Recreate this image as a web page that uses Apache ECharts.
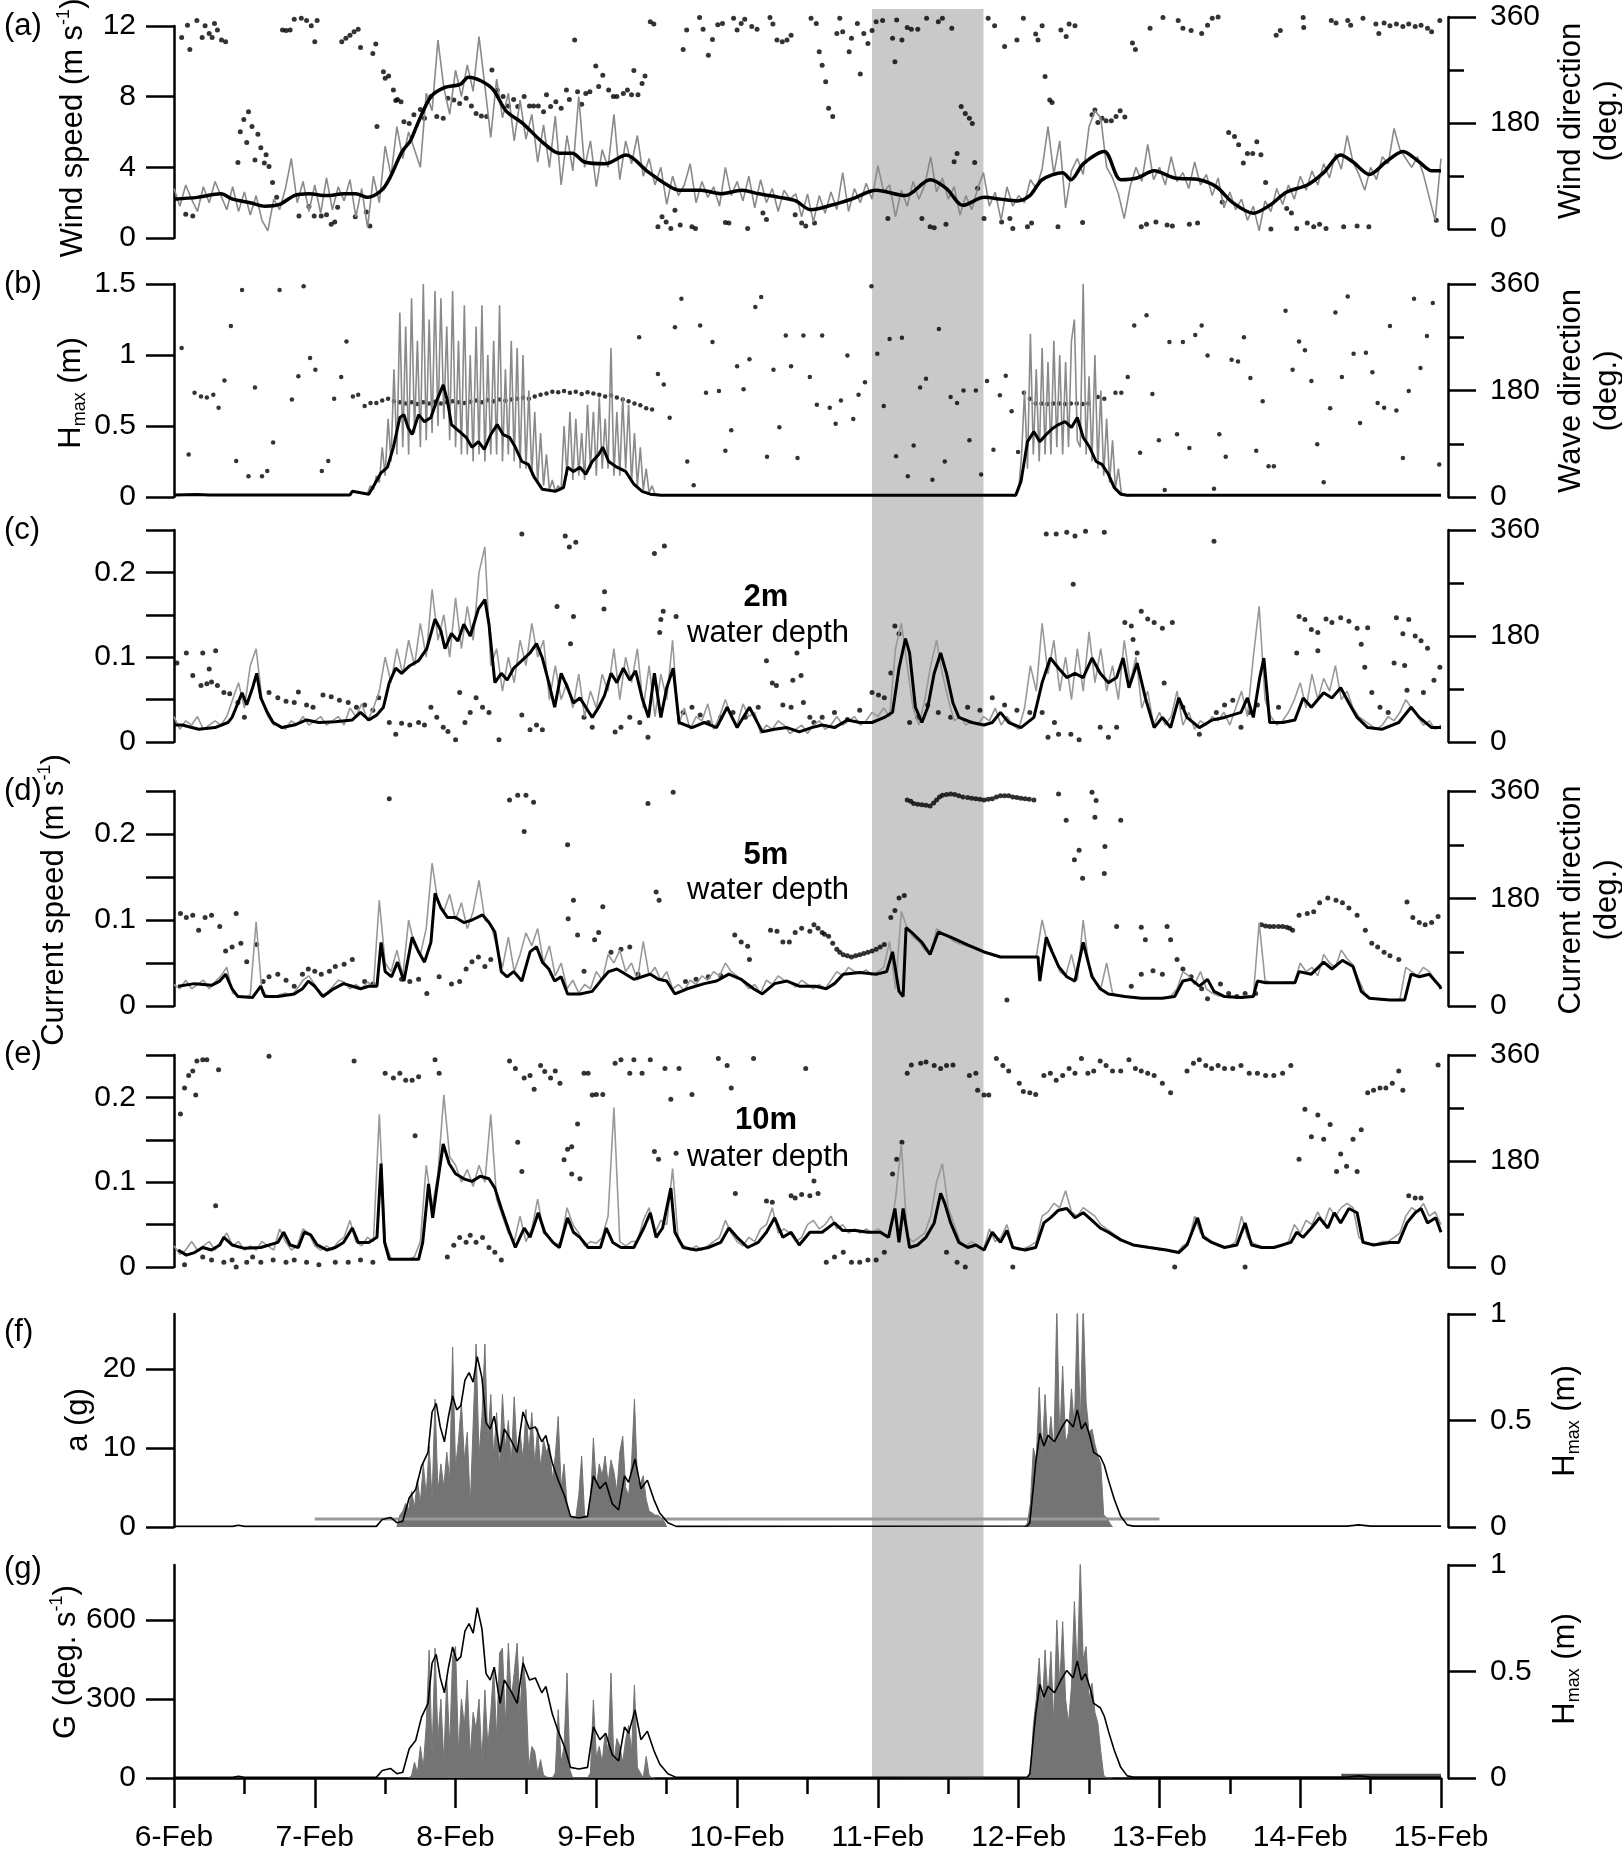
<!DOCTYPE html>
<html><head><meta charset="utf-8">
<script src="https://cdn.jsdelivr.net/npm/echarts@6/dist/echarts.min.js"></script>
<style>html,body{margin:0;padding:0;background:#fff}#c{width:1622px;height:1856px}</style>
</head><body><div id="c"></div>
<script>
// ---------------- DATA (time in hours from 6-Feb 00:00) ----------------
const dayStart = 6;            // first tick = 6-Feb
const xMaxHours = 216;         // 15-Feb
const bandHours = [119, 138];  // shaded period

// (a) wind speed, hourly raw (m/s)
const windSpeedRaw = [
2.8,1.8,3.0,2.2,1.5,2.9,2.0,3.2,2.4,1.6,
2.9,1.5,2.6,1.3,2.4,1.0,0.4,2.2,1.6,2.8,
4.5,2.0,3.2,1.5,3.0,1.4,3.4,1.6,2.9,2.1,
3.3,1.2,2.8,0.6,3.5,2.0,5.2,3.5,6.3,4.5,
6.0,5.0,4.0,8.2,7.2,11.2,8.5,7.0,9.5,8.0,
9.8,8.3,11.4,8.6,5.7,9.0,6.8,8.2,5.5,7.8,
5.6,7.0,4.3,6.4,4.0,6.9,3.0,5.8,3.8,8.0,
4.0,5.5,2.9,5.0,4.0,7.0,3.3,5.5,4.2,5.8,
3.5,4.5,3.0,4.0,1.9,3.5,2.4,3.0,4.2,2.0,
3.2,2.3,2.9,1.8,4.0,2.4,3.2,2.1,3.5,1.7,
3.3,2.0,2.8,1.5,2.7,2.2,2.5,1.2,2.5,0.9,
2.4,1.4,2.6,1.6,3.7,1.5,2.8,2.0,3.1,2.2,
4.1,2.6,3.0,1.2,2.7,1.8,3.2,2.2,3.0,4.6,
2.6,3.4,2.2,2.9,1.3,2.4,1.6,2.8,3.7,1.8,
2.6,1.0,2.9,1.8,2.4,2.0,3.3,2.8,3.9,6.3,
3.6,5.5,1.7,3.8,4.5,3.6,6.3,7.2,6.8,4.0,
3.4,2.5,1.1,2.9,4.0,3.2,5.3,3.3,4.0,3.0,
4.6,3.2,3.7,2.8,4.3,3.0,3.6,2.4,3.4,1.7,
2.6,1.6,2.2,1.0,1.8,0.4,2.1,1.5,2.8,1.9,
3.0,2.2,3.5,2.7,3.8,3.0,4.2,3.4,4.8,3.9,
5.8,4.3,3.6,2.7,4.0,3.3,4.6,4.2,6.2,5.0,
4.5,4.0,4.6,3.6,2.3,1.0,4.5];
// (a) wind speed smoothed [hour, m/s]
const windSpeedSmooth = [[0,2.2],[4,2.3],[8,2.5],[10,2.2],[13,2.0],[15.5,1.8],[18,1.9],[20.5,2.4],[23,2.5],[26,2.4],[29,2.5],[31,2.5],[33,2.3],[35.4,2.7],[36.8,3.4],[38.9,4.9],[40.3,5.5],[41.7,6.6],[43.8,8.0],[46,8.5],[48.8,8.7],[50.2,9.1],[52.3,8.9],[54.4,8.4],[56.6,7.2],[59.4,6.5],[62.9,5.4],[65.7,4.8],[67.9,4.8],[70,4.3],[73.5,4.2],[77.1,4.7],[80.6,3.8],[84.1,3.0],[86.2,2.7],[89.8,2.7],[93.3,2.5],[96.8,2.7],[99.7,2.5],[103.2,2.3],[106,2.1],[108.5,1.6],[112,1.85],[115.5,2.2],[119.7,2.7],[124.7,2.4],[128.9,3.3],[131.7,2.8],[134.5,1.85],[138.1,2.3],[140.9,2.2],[143.7,2.1],[145.9,2.4],[148,3.3],[151.5,3.7],[152.9,3.3],[155,4.2],[158.6,4.9],[161.4,3.3],[164.2,3.4],[167.1,3.8],[170.6,3.4],[174.8,3.3],[177.7,2.9],[180.5,2.0],[184,1.4],[186.8,1.85],[189.7,2.6],[193.2,3.0],[196,3.7],[198.9,4.7],[201,4.3],[203.8,3.6],[206.6,4.3],[209.5,4.9],[212.3,4.3],[214.4,3.8],[216,3.8]];
// (a) wind direction [hour, deg]
const windDir = [[1.3,325],[2,25],[2.3,346],[2.7,305],[3.2,22],[3.9,354],[4.8,325],[5.3,345],[6,332],[6.5,325],[6.9,349],[7.4,338],[8.1,321],[8.8,318],[10.9,113],[11.3,165],[11.9,186],[12.4,147],[12.7,199],[13.3,174],[13.8,117],[14.3,161],[14.8,138],[15.4,112],[15.7,126],[16.2,106],[16.8,79],[17.5,54],[18.5,338],[19.1,337],[19.8,338],[20.5,356],[21.3,22],[21.7,358],[22.6,354],[23,38],[23.4,345],[23.9,22],[24,318],[24.4,354],[25.1,22],[26,24],[26.8,8],[27.4,12],[27.9,37],[28.6,318],[29.3,324],[30,329],[30.7,335],[30.9,21],[31.4,339],[31.8,308],[32.8,29],[33.4,5],[33.9,298],[34.4,314],[34.6,174],[35.7,267],[36,256],[36.6,260],[37.4,236],[37.8,218],[38.1,220],[38.7,216],[39.2,182],[40.1,179],[40.9,194],[42,203],[42.7,188],[43.8,225],[44.8,191],[45.9,188],[46.7,222],[47.7,219],[48.7,213],[49.8,222],[50.7,209],[51.5,196],[52.4,192],[53.3,191],[54.2,270],[55.1,236],[56.1,225],[57,209],[57.9,220],[58.6,208],[59.7,225],[60.6,209],[61.3,209],[62.1,209],[63,199],[63.5,228],[64.2,208],[65.1,216],[66,205],[66.9,236],[67.4,220],[68.3,321],[68.8,233],[69.5,212],[70.2,230],[70.9,233],[71.9,277],[72.4,242],[73.1,261],[74.1,236],[74.9,225],[75.5,225],[76.6,230],[77.3,236],[78,228],[78.4,269],[79.1,228],[79.8,247],[80.3,260],[81.2,352],[81.8,348],[82.5,4],[83.2,21],[83.9,12],[84.7,1],[85.4,32],[86.3,7],[86.8,305],[87.4,338],[88.3,4],[88.9,1],[89.6,359],[90.2,339],[91.1,295],[91.8,322],[92.7,347],[93.5,349],[94,11],[94.6,10],[95.4,358],[96,338],[96.7,349],[97.3,356],[97.8,1],[98.5,344],[99.4,339],[100.4,27],[101,16],[101.6,359],[102.1,348],[102.8,321],[103.7,318],[104.5,321],[105.2,329],[105.9,24],[107,10],[107.7,5],[108.6,358],[109.2,10],[109.5,349],[110,301],[110.5,278],[111.1,250],[111.6,205],[112.3,191],[113,332],[113.5,358],[114,335],[115.1,301],[115.5,324],[116.5,349],[117,263],[117.6,332],[118.3,315],[119,337],[119.7,352],[120.8,354],[121.7,18],[122.5,324],[122.9,284],[123.2,355],[124.1,321],[125,342],[125.7,339],[126.8,339],[127.5,18],[128.3,358],[128.9,4],[129.6,2],[130.3,352],[131,358],[131.6,8],[132.6,341],[133,114],[133.5,128],[134.2,208],[134.9,196],[135.6,188],[136.1,179],[136.5,113],[137,69],[138.1,18],[138.8,358],[139.9,345],[141.1,12],[141.6,310],[142.5,18],[143,1],[143.7,321],[144.8,358],[145.5,4],[146.2,10],[146.9,331],[147.3,321],[148,345],[148.5,259],[149.3,219],[149.7,215],[150.7,4],[151.2,338],[152.1,327],[152.6,348],[153.6,345],[154.9,11],[156.5,194],[157,202],[157.5,181],[158.2,188],[158.9,184],[159.8,184],[160.6,191],[161.3,201],[162.1,190],[163.4,316],[163.9,305],[164.9,4],[165.8,8],[166.4,341],[167.4,12],[168.6,359],[169.3,7],[170.2,5],[171.2,354],[172,341],[173.1,8],[173.4,337],[174.5,10],[175.2,332],[176.2,346],[177,358],[178,360],[178.7,46],[179.8,164],[180.8,157],[181.5,143],[182.3,112],[183,128],[183.9,128],[184.6,148],[185.3,126],[186.1,79],[187,0],[187.9,329],[188.6,337],[189.7,35],[190.5,27],[191.4,1],[192.5,359],[192.6,342],[193.2,10],[194.3,4],[195.3,8],[196.4,1],[197.3,354],[198.1,350],[199.4,4],[200.1,354],[200.6,346],[201.7,5],[202.7,358],[203.7,4],[204.9,348],[205.4,332],[206.3,350],[207.3,345],[208.4,348],[209.5,344],[210.5,348],[211.6,344],[212.6,346],[213.7,341],[214.4,335],[215.2,15],[215.8,354]];

// (b) Hmax raw, half-hourly in two active windows (m)
const hmaxRawStart1 = 33;
const hmaxRaw1 = [
.03,.08,.05,.15,.10,.35,.15,.55,.25,.9,
.3,1.3,.35,1.2,.3,1.4,.45,1.1,.35,1.5,
.4,1.25,.45,1.45,.5,1.4,.55,1.2,.4,1.45,
.35,1.1,.3,1.35,.3,1.0,.25,1.2,.3,1.35,
.25,1.0,.3,1.1,.3,1.35,.25,.9,.3,1.1,
.25,1.05,.2,1.0,.2,.75,.15,.6,.1,.45,
.08,.3,.05,.12,.04,.08,.05,.5,.15,.6,
.12,.55,.15,.45,.12,.65,.2,.6,.15,.7,
.2,.55,.2,1.05,.15,.6,.15,.7,.2,.65,
.1,.45,.08,.35,.05,.2,.03,.08,.02,.02,
.01];
const hmaxRawStart2 = 143;
const hmaxRaw2 = [
.01,.01,.05,.3,.75,.2,1.15,.3,.9,.25,
1.05,.3,.95,.3,1.1,.35,1.0,.3,.95,.35,
1.1,1.25,.4,.35,1.5,.3,.85,.25,1.0,.2,
.75,.15,.55,.1,.4,.06,.2,.03,.02,.01,
.01];
// (b) Hmax smoothed [hour, m]
const hmaxSmoothB = [[0,0.014],[4,0.018],[6,0.014],[30,0.014],[30.4,0.04],[31.8,0.03],[33.2,0.02],[34.2,0.09],[35.3,0.17],[36.4,0.21],[37.4,0.35],[38.5,0.56],[39.2,0.58],[39.9,0.49],[40.6,0.44],[41.7,0.58],[42.7,0.53],[43.8,0.56],[44.8,0.68],[45.9,0.79],[46.6,0.68],[47.3,0.51],[48.7,0.46],[49.8,0.42],[50.8,0.35],[51.9,0.39],[52.9,0.335],[54,0.44],[55.1,0.51],[56.1,0.44],[57.2,0.42],[58.2,0.35],[59.3,0.25],[60.4,0.23],[61.4,0.14],[62.8,0.054],[65,0.04],[66.4,0.066],[67.1,0.21],[68.1,0.18],[69.2,0.21],[70.2,0.16],[71.3,0.25],[72.4,0.3],[73.1,0.35],[74.1,0.25],[75.5,0.21],[77,0.18],[78.4,0.09],[79.8,0.04],[81.2,0.02],[83,0.012],[143.5,0.012],[144.4,0.11],[145.5,0.39],[146.6,0.46],[147.6,0.39],[148.7,0.44],[149.7,0.48],[150.8,0.51],[151.9,0.53],[153,0.49],[154,0.56],[155,0.42],[156.1,0.35],[157.2,0.25],[158.2,0.23],[159.3,0.16],[160.3,0.066],[161.4,0.02],[162.5,0.012],[216,0.012]];
// (b) wave direction [hour, deg]
const waveDir = [[1.3,252],[2.5,72],[3.5,176],[4.6,170],[5.6,168],[6.7,173],[7.6,151],[8.6,197],[9.7,289],[10.6,61],[11.6,350],[12.7,35],[13.8,185],[15,35],[15.9,44],[16.9,92],[18,350],[20.1,165],[21.2,204],[22.1,356],[23.2,235],[24.1,215],[25.2,44],[26.3,61],[27.3,166],[28.5,203],[29.4,263],[30.5,170],[31.4,173],
[32.5,154],[33.5,159],[34.5,159],[35.5,163],[36.5,166],[37.5,162],[38.5,160],[39.5,158],[40.5,160],[41.5,157],[42.5,160],[43.5,158],[44.5,161],[45.5,158],[46.5,160],[47.5,162],[48.5,160],[49.5,159],[50.5,161],[51.5,163],[52.5,160],[53.5,164],[54.5,162],[55.5,165],[56.5,163],[57.5,165],[58.5,166],[59.5,168],[60.5,166],[61.5,170],[62.5,173],[63.5,175],[64.5,178],[65.5,177],[66.5,179],[67.5,176],[68.5,178],[69.5,174],[70.5,177],[71.5,175],[72.5,173],[73.5,170],[74.5,172],[75.5,168],[76.5,165],[77.5,162],[78.5,158],[79.5,155],[80.5,150],[81.5,148],
[79.3,270],[82.5,208],[83.5,190],[84.5,134],[85.4,287],[86.5,335],[87.5,60],[88.6,20],[89.7,290],[90.7,176],[91.8,262],[92.9,179],[94,78],[95,113],[96,221],[97.1,182],[98.1,233],[99.1,321],[100.1,338],[101.1,68],[102.2,215],[103.2,118],[104.3,273],[105.2,221],[106.3,66],[107.3,273],[108.4,203],[109.6,156],[110.5,273],[111.8,151],[112.8,124],[113.7,163],[114.8,239],[115.8,132],[116.7,173],[117.8,194],[118.9,356],[119.9,242],[121,154],[122,267],[123.1,69],[124.1,269],[125.1,35],[126.1,87],[127.2,185],[128.2,200],[129.3,29],[130.4,284],[131.4,60],[132.4,169],[133.5,159],[134.6,180],[135.6,96],[136.7,180],[137.6,38],[138.6,196],[139.7,80],[140.8,172],[141.8,205],[142.8,145],[143.9,76],[144.9,176],[145.9,166],
[146.9,158],[147.9,158],[148.9,157],[149.9,158],[150.9,158],[151.9,157],[152.9,158],[153.9,158],[154.9,157],[155.9,158],
[157.5,169],[158.6,166],[160.5,176],[161.5,176],[162.6,203],[163.7,290],[164.7,75],[165.8,307],[166.8,174],[167.9,96],[168.9,12],[169.7,262],[171,106],[172,262],[173.1,83],[174.1,274],[175.2,290],[176.2,239],[177.3,14],[178.2,106],[179.3,68],[180.3,232],[181.4,229],[182.4,270],[183.5,201],[184.5,78],[185.6,162],[186.6,52],[187.5,52],[189.5,315],[190.7,215],[191.8,263],[192.8,248],[193.9,196],[194.9,89],[196,25],[197.1,150],[198,312],[199.1,203],[200.1,339],[201.1,242],[202.2,125],[203.2,244],[204.3,211],[205.2,159],[206.3,151],[207.3,289],[208.4,146],[209.5,66],[210.5,179],[211.4,335],[212.5,218],[213.6,272],[214.6,328],[215.7,55]];

// (c) 2 m current speed raw hourly (m/s)
const cur2Raw = [
.03,.015,.025,.02,.03,.015,.02,.025,.02,.03,
.05,.07,.04,.09,.11,.05,.03,.02,.02,.015,
.025,.02,.03,.02,.025,.03,.02,.025,.03,.02,
.04,.03,.045,.025,.04,.06,.1,.07,.11,.08,
.12,.09,.14,.1,.18,.12,.15,.1,.17,.11,
.16,.12,.2,.23,.09,.11,.06,.1,.07,.12,
.09,.14,.1,.12,.05,.09,.05,.07,.04,.08,
.03,.06,.04,.08,.06,.11,.05,.1,.07,.11,
.04,.09,.03,.08,.05,.12,.02,.04,.015,.03,
.025,.045,.015,.03,.05,.03,.02,.045,.03,.035,
.01,.02,.015,.025,.02,.01,.015,.02,.01,.02,
.025,.015,.02,.03,.02,.025,.03,.02,.025,.035,
.03,.04,.03,.11,.14,.09,.04,.02,.05,.09,
.12,.08,.05,.025,.03,.02,.025,.02,.03,.025,
.04,.02,.03,.02,.015,.04,.09,.06,.14,.08,
.12,.06,.1,.05,.11,.06,.13,.07,.11,.06,
.09,.05,.12,.07,.1,.04,.06,.02,.035,.02,
.03,.06,.02,.035,.015,.025,.02,.03,.025,.035,
.02,.04,.06,.03,.1,.16,.05,.03,.02,.025,
.035,.05,.07,.04,.08,.05,.075,.06,.09,.05,
.06,.04,.03,.025,.02,.015,.02,.03,.025,.035,
.05,.04,.03,.02,.025,.015,.02];
const cur2Smooth = [[0,0.02],[1.4,0.02],[4.2,0.015],[7,0.017],[9.2,0.023],[9.9,0.029],[10.9,0.046],[11.6,0.058],[12.4,0.044],[13.4,0.064],[14.1,0.081],[14.8,0.052],[15.9,0.035],[16.9,0.023],[18.4,0.017],[20.5,0.02],[22.6,0.026],[24.7,0.023],[27.5,0.024],[30.4,0.026],[31.8,0.035],[33.2,0.026],[34.6,0.032],[35.7,0.041],[36.7,0.07],[37.8,0.087],[38.8,0.081],[40.2,0.09],[41.7,0.096],[43.1,0.11],[44.5,0.145],[45.5,0.131],[46.2,0.11],[47.3,0.128],[48.4,0.119],[49.4,0.139],[50.5,0.125],[51.9,0.157],[53,0.168],[53.7,0.139],[54.7,0.07],[55.8,0.081],[56.8,0.073],[57.9,0.087],[59.3,0.096],[60.7,0.105],[61.8,0.116],[62.8,0.099],[63.9,0.07],[64.9,0.041],[66,0.081],[67.1,0.064],[68.1,0.046],[69.2,0.052],[70.2,0.041],[71.3,0.029],[72.4,0.041],[73.4,0.055],[74.5,0.081],[75.5,0.07],[76.6,0.087],[77.7,0.073],[78.7,0.084],[79.8,0.052],[80.9,0.029],[81.9,0.081],[83,0.029],[84,0.064],[85.1,0.087],[86.1,0.023],[88.3,0.017],[90.4,0.023],[92.5,0.017],[94.3,0.041],[96,0.017],[98.1,0.041],[100.3,0.012],[102.4,0.015],[104.5,0.017],[106.6,0.012],[108.7,0.017],[110.5,0.02],[112.6,0.017],[114.8,0.026],[116.9,0.023],[119,0.023],[121.1,0.029],[122.5,0.035],[123.6,0.087],[124.7,0.122],[125.4,0.105],[126.4,0.041],[127.5,0.023],[128.5,0.041],[129.6,0.081],[130.7,0.105],[131.7,0.081],[132.8,0.046],[133.8,0.029],[136,0.023],[138.1,0.02],[139.5,0.023],[140.9,0.035],[142.3,0.023],[144.4,0.017],[146.6,0.029],[148,0.07],[149.4,0.099],[150.8,0.087],[152.2,0.076],[153.6,0.081],[155,0.076],[156.5,0.099],[157.9,0.081],[159.3,0.07],[160.7,0.076],[161.8,0.099],[162.8,0.064],[164.2,0.093],[165.6,0.052],[167.1,0.017],[168.5,0.029],[169.9,0.017],[171.3,0.052],[172.7,0.029],[174.8,0.017],[177,0.026],[179.1,0.029],[181.9,0.035],[183,0.052],[184,0.029],[185.1,0.076],[185.8,0.099],[186.8,0.023],[189,0.023],[191.1,0.026],[192.5,0.052],[193.9,0.041],[196,0.058],[197.4,0.052],[198.9,0.064],[200.3,0.046],[201.7,0.029],[203.5,0.017],[205.9,0.015],[208.8,0.023],[210.9,0.041],[212.3,0.029],[214.4,0.017],[216,0.017]];
const cur2Dir = [[0.5,134],[2.1,151],[3.2,113],[4.6,96],[4.9,151],[5.6,99],[6,124],[6.4,102],[7.1,155],[7.4,96],[8.5,84],[9.5,82],[10.9,67],[12,42],[16.2,84],[17.7,75],[19.1,69],[20.5,67],[21.2,85],[22.6,63],[23.7,59],[25.4,80],[26.8,77],[28.2,71],[29.7,67],[31.1,59],[32.5,63],[33.9,54],[34.9,75],[36.7,33],[37.8,13],[38.8,32],[40.2,29],[41.7,33],[42.7,29],[43.8,59],[44.8,42],[45.9,25],[46.7,18],[48,4],[48.7,84],[49.6,33],[50.5,50],[51.5,75],[52.6,59],[53.7,50],[55.4,4],[59.3,353],[59.3,46],[60.7,21],[61.8,29],[62.8,21],[65.3,230],[66.7,350],[67.4,331],[67.6,167],[68.1,213],[68.5,339],[69.9,42],[71.3,25],[73.3,226],[73.4,255],[75.2,17],[76.2,25],[77.7,42],[79.4,33],[80.8,8],[81.9,320],[82.8,186],[83,208],[83.4,222],[83.6,333],[85.6,213],[86.8,50],[88.3,59],[89.7,46],[91.1,33],[93.2,42],[95.3,50],[97.4,42],[99.6,59],[101,138],[102,100],[102.7,96],[103.8,63],[105.2,59],[105.5,105],[106.2,151],[106.9,113],[107.3,67],[108.4,42],[109.1,33],[110.5,42],[112.6,50],[114.8,38],[116.9,54],[119,84],[120.1,80],[121.1,75],[122.2,117],[122.9,197],[123.6,184],[125.4,33],[126.8,42],[128.5,63],[130.3,50],[132.4,42],[135.3,59],[137.4,54],[139.5,75],[141.6,63],[143.7,54],[145.9,50],[148,50],[148.7,353],[149,8],[150.1,33],[150.4,353],[150.8,13],[152.2,356],[152.9,13],[153.3,268],[153.6,350],[154.3,4],[155.4,358],[157.9,25],[158.6,356],[159.3,8],[160.7,25],[162.1,203],[163.2,197],[163.5,174],[164.2,151],[164.9,222],[166,209],[167.1,203],[168.5,193],[168.8,100],[170.2,203],[172,59],[174.8,13],[177.3,341],[177.7,50],[179.1,63],[180.5,71],[181.9,25],[183.3,50],[184.7,63],[188.3,59],[191.4,151],[191.8,213],[192.8,208],[193.9,191],[195,186],[195,155],[196.4,209],[197.4,203],[198.9,211],[200.3,205],[201.7,193],[202.4,166],[203,127],[203.5,194],[204.2,84],[205.6,59],[207,50],[208,134],[208.4,211],[209.5,184],[209.8,130],[210.2,88],[210.5,208],[211.6,180],[212.6,172],[213,84],[213.7,159],[214.8,105],[215.8,127]];

// (d) 5 m
const cur5Raw = [
.025,.02,.03,.02,.025,.03,.02,.028,.035,.045,
.015,.012,.01,.013,.098,.015,.012,.01,.013,.015,
.012,.02,.03,.035,.025,.012,.015,.022,.03,.028,
.02,.025,.02,.028,.022,.123,.05,.04,.065,.035,
.1,.07,.06,.09,.166,.12,.11,.13,.1,.12,
.09,.11,.146,.1,.095,.07,.045,.08,.04,.06,
.085,.07,.09,.05,.07,.035,.05,.02,.03,.015,
.025,.02,.04,.03,.06,.05,.065,.04,.05,.03,
.075,.035,.045,.03,.04,.02,.025,.018,.03,.025,
.035,.03,.04,.035,.05,.04,.035,.028,.02,.025,
.015,.03,.025,.035,.03,.028,.022,.03,.025,.02,
.025,.02,.03,.04,.035,.045,.04,.038,.042,.036,
.04,.045,.075,.02,.11,.09,.08,.075,.065,.06,
.09,.085,.08,.075,.072,.07,.068,.065,.062,.06,
.058,.057,.057,.057,.057,.057,.057,.057,.1,.07,
.06,.04,.035,.06,.03,.1,.045,.03,.02,.05,
.015,.012,.011,.01,.009,.009,.009,.009,.009,.01,
.012,.02,.04,.035,.025,.04,.02,.015,.012,.011,
.01,.01,.011,.012,.011,.097,.03,.027,.027,.027,
.028,.027,.05,.04,.045,.035,.06,.05,.045,.065,
.055,.048,.03,.015,.009,.008,.007,.007,.007,.008,
.045,.04,.035,.045,.04,.03,.02];
const cur5Smooth = [[0.7,0.023],[3.5,0.026],[6.4,0.024],[7.8,0.029],[8.8,0.037],[9.9,0.02],[10.9,0.011],[13.4,0.01],[14.8,0.023],[15.5,0.011],[17.7,0.011],[20.5,0.014],[21.9,0.02],[22.9,0.029],[24,0.023],[25.4,0.011],[27.2,0.02],[28.9,0.026],[30.4,0.023],[31.8,0.02],[33.2,0.023],[34.6,0.023],[35.3,0.074],[36,0.04],[37.1,0.034],[38.1,0.051],[39.2,0.029],[40.6,0.08],[41.7,0.063],[42.7,0.051],[43.8,0.074],[44.5,0.131],[45.5,0.114],[46.6,0.103],[48,0.103],[49.4,0.097],[50.8,0.1],[52.6,0.106],[53.7,0.097],[54.7,0.086],[55.8,0.04],[56.8,0.034],[57.9,0.04],[59.3,0.029],[60.7,0.063],[61.8,0.069],[62.8,0.051],[63.9,0.043],[64.9,0.029],[66,0.034],[67.1,0.014],[69.2,0.014],[71.3,0.017],[72.7,0.029],[74.1,0.04],[75.5,0.043],[77,0.037],[78.4,0.031],[79.8,0.034],[81.2,0.037],[82.6,0.031],[84,0.029],[85.4,0.014],[87.5,0.02],[90.4,0.026],[92.5,0.029],[94.6,0.037],[96.7,0.031],[98.8,0.02],[100.3,0.014],[102.4,0.026],[104.5,0.029],[106.6,0.023],[109.4,0.023],[111.2,0.02],[112.6,0.026],[114.1,0.037],[116.9,0.039],[119.7,0.037],[121.5,0.04],[122.5,0.063],[123.6,0.017],[124.3,0.011],[124.8,0.091],[125.7,0.086],[127.5,0.074],[128.9,0.06],[130.3,0.086],[132.4,0.08],[135.3,0.071],[138.1,0.063],[140.9,0.057],[143.7,0.057],[147.3,0.057],[147.6,0.029],[148.7,0.08],[149.7,0.063],[150.8,0.046],[152.2,0.034],[153.6,0.029],[155,0.074],[156.5,0.034],[157.9,0.02],[159.3,0.014],[162.1,0.011],[164.9,0.009],[168.5,0.009],[170.6,0.011],[172,0.029],[173.4,0.031],[174.8,0.023],[176.2,0.031],[177.3,0.017],[179.1,0.011],[181.9,0.01],[184,0.011],[184.7,0.029],[186.1,0.027],[191.1,0.027],[191.8,0.04],[193.9,0.037],[196,0.051],[197.4,0.043],[199.2,0.053],[201,0.046],[202.4,0.017],[203.8,0.009],[207.3,0.007],[209.8,0.007],[210.9,0.037],[212.3,0.034],[214,0.037],[215.8,0.023],[216,0.02]];
const cur5Dir = [[1.1,155],[2.1,148],[3.2,152],[4.2,127],[5.3,148],[6.4,152],[7.8,133],[8.8,92],[9.9,99],[10.6,155],[11.4,105],[12.4,74],[14.1,103],[15.2,41],[16.2,49],[17.7,53],[19.1,43],[20.5,33],[21.9,53],[22.9,62],[24,58],[25.1,53],[26.5,58],[27.5,66],[29,70],[30.4,78],[32.5,41],[33.9,37],[36.7,347],[38.8,45],[40.2,41],[41.7,45],[43.1,21],[45.2,49],[47.3,37],[48.7,41],[49.8,62],[50.8,74],[51.9,82],[53,66],[54,78],[57.2,345],[58.6,353],[59.7,292],[60,353],[61.3,341],[67.1,270],[67.2,146],[68.1,177],[68.8,119],[69.9,58],[71.7,111],[72.4,123],[73.1,166],[74.5,90],[76.2,95],[77.7,99],[79.1,53],[80.8,339],[82.2,191],[82.7,177],[85.1,358],[87.2,41],[89,45],[91.1,49],[93.2,51],[95.6,119],[96.7,107],[97.8,100],[98.1,78],[101.7,127],[102.8,125],[103.8,107],[104.9,107],[105.9,123],[107,130],[108.4,125],[109.1,136],[109.8,130],[110.5,123],[110.9,120],[111.6,117],[112.3,105],[113,95],[113.5,90],[114.1,86],[114.8,84],[115.5,82],[116.2,84],[116.9,86],[117.6,88],[118.3,90],[119,92],[119.7,95],[120.4,99],[121.1,103],[122.2,148],[122.9,160],[123.6,181],[124.5,185],[125,345],[125.6,343],[126.1,339],[126.8,338],[127.5,337],[128.2,336],[128.9,335],[129.5,340],[130,345],[130.5,350],[131,353],[131.7,354],[132.4,355],[133.1,354],[133.8,352],[134.5,350],[135.3,349],[136,348],[136.7,347],[137.4,346],[138.1,345],[138.8,346],[139.5,347],[140.2,350],[140.9,352],[141.6,352],[142,10],[142.3,352],[143,350],[143.7,349],[144.4,348],[145.1,347],[145.8,346],[146.6,345],[150.8,355],[152.1,311],[153.5,245],[154.3,261],[154.9,214],[156.5,358],[157,316],[157.2,344],[158.6,222],[158.7,267],[160.7,133],[161.4,311],[163.2,33],[164.9,132],[164.9,53],[165.6,111],[166.9,59],[168.5,53],[169.3,133],[169.9,111],[171,78],[172,62],[173.4,49],[175.2,29],[176.2,12],[178.4,37],[179.8,21],[181.2,16],[182.6,21],[184.4,21],[185.4,136],[186.1,134],[186.8,133],[187.5,133],[188.3,133],[189,133],[189.7,132],[190.2,130],[190.7,127],[191.8,152],[193.2,155],[194.3,158],[195.3,173],[196.7,181],[198.1,177],[199.2,173],[200.3,164],[201.7,152],[203.1,127],[204.2,105],[205.2,99],[206.3,90],[207.3,84],[208.8,78],[210.2,174],[211.2,148],[212.3,140],[213.3,136],[214.4,140],[215.5,150]];

// (e) 10 m
const cur10Raw = [
.025,.015,.02,.03,.02,.025,.03,.02,.03,.04,
.025,.03,.02,.025,.02,.03,.025,.02,.045,.03,
.02,.025,.045,.04,.025,.02,.025,.02,.03,.035,
.055,.03,.025,.035,.03,.18,.03,.01,.009,.01,
.009,.012,.03,.12,.07,.11,.203,.13,.12,.1,
.115,.095,.12,.1,.18,.08,.06,.04,.03,.06,
.03,.045,.08,.04,.035,.025,.03,.07,.05,.04,
.025,.03,.028,.035,.06,.188,.03,.025,.03,.03,
.055,.07,.04,.055,.05,.116,.03,.025,.02,.025,
.02,.025,.03,.035,.055,.04,.03,.025,.035,.03,
.045,.05,.07,.04,.045,.04,.03,.035,.05,.055,
.045,.05,.06,.045,.05,.04,.045,.04,.045,.04,
.045,.04,.035,.08,.145,.035,.03,.035,.04,.06,
.1,.122,.07,.05,.03,.025,.03,.025,.02,.045,
.03,.035,.05,.025,.02,.022,.025,.03,.06,.065,
.075,.07,.09,.065,.06,.07,.065,.06,.05,.045,
.04,.035,.03,.028,.025,.024,.023,.022,.02,.02,
.018,.017,.025,.03,.06,.04,.035,.03,.025,.023,
.025,.03,.06,.035,.028,.025,.023,.023,.023,.025,
.03,.05,.04,.055,.05,.065,.05,.07,.06,.07,
.075,.07,.035,.03,.028,.027,.03,.03,.035,.04,
.06,.07,.065,.075,.06,.065,.05];
const cur10Smooth = [[0.7,0.02],[2.1,0.014],[3.5,0.017],[4.9,0.023],[6.4,0.02],[7.8,0.026],[8.5,0.035],[9.9,0.026],[12,0.022],[14.8,0.023],[17.7,0.029],[18.7,0.041],[19.8,0.026],[21.2,0.023],[22.2,0.041],[23.3,0.038],[24.4,0.026],[26.1,0.02],[27.5,0.023],[28.9,0.029],[30.4,0.046],[31.4,0.029],[33.2,0.029],[34.6,0.035],[35.3,0.122],[35.9,0.029],[36.7,0.009],[41.7,0.009],[42.4,0.029],[43.4,0.098],[44.1,0.058],[44.8,0.093],[45.9,0.145],[46.9,0.122],[48,0.11],[49.4,0.104],[50.8,0.101],[52.2,0.107],[53.7,0.104],[54.7,0.093],[55.8,0.069],[57.2,0.041],[58.2,0.023],[59.7,0.046],[60.7,0.035],[62.1,0.064],[63.2,0.041],[64.6,0.029],[65.7,0.023],[67.1,0.058],[68.1,0.041],[69.2,0.035],[70.6,0.023],[72.7,0.023],[73.7,0.046],[74.8,0.029],[76.2,0.023],[78.4,0.023],[80.1,0.046],[81.2,0.064],[82.2,0.035],[83.3,0.046],[84.7,0.093],[85.4,0.041],[86.8,0.023],[89,0.02],[91.1,0.023],[93.2,0.029],[94.6,0.046],[96,0.035],[97.8,0.023],[99.6,0.029],[101,0.041],[102.4,0.058],[103.8,0.035],[105.2,0.041],[106.6,0.026],[108.4,0.041],[110.5,0.041],[112.6,0.052],[114,0.043],[116.2,0.043],[118.3,0.041],[120.4,0.041],[121.8,0.035],[122.9,0.069],[123.6,0.029],[124.3,0.069],[125.4,0.023],[126.8,0.026],[128.2,0.035],[129.6,0.052],[130.7,0.087],[131.4,0.075],[132.4,0.052],[133.8,0.029],[135.3,0.023],[136.7,0.026],[138.1,0.02],[139.5,0.041],[140.9,0.029],[142,0.043],[143,0.023],[145.1,0.02],[146.9,0.023],[148.3,0.052],[149.4,0.058],[150.8,0.067],[152.2,0.069],[153.6,0.058],[155,0.064],[156.5,0.055],[157.9,0.046],[159.3,0.041],[161.4,0.032],[163.5,0.026],[166.3,0.023],[169.2,0.02],[171.3,0.017],[172.7,0.026],[174.5,0.058],[175.5,0.035],[176.9,0.029],[179.1,0.023],[181.2,0.026],[182.6,0.052],[183.7,0.026],[185.4,0.023],[187.5,0.023],[190.4,0.029],[191.4,0.041],[192.5,0.035],[193.9,0.046],[195.3,0.058],[196.7,0.046],[197.8,0.064],[198.9,0.052],[200.3,0.069],[201.7,0.064],[202.7,0.029],[204.5,0.026],[207.3,0.029],[208.8,0.029],[210.2,0.052],[211.6,0.064],[212.6,0.069],[213.7,0.052],[215.1,0.058],[216,0.041]];
const cur10Dir = [[1.1,260],[1.8,304],[1.8,4],[2.5,325],[3.2,333],[3.7,292],[3.9,350],[4.9,352],[4.9,17],[5.6,352],[6.4,12],[7.1,104],[7.6,335],[8.5,8],[9.9,12],[10.6,0],[12.4,8],[13.4,17],[14.8,8],[16.2,358],[16.9,12],[19.1,8],[20.5,12],[22.6,8],[24.7,4],[27.5,8],[29.7,8],[30.7,350],[31.8,12],[33.9,8],[36,329],[37.4,321],[38.5,329],[39.5,317],[40.6,317],[41.1,223],[41.7,323],[44.5,352],[45.2,329],[46.6,17],[47.7,37],[48.7,50],[49.8,42],[50.5,54],[51.5,42],[52.6,50],[53.7,33],[54.7,25],[55.8,12],[57.2,350],[58.2,337],[58.6,212],[59.3,162],[59.7,321],[60.7,325],[61.4,302],[62.5,342],[63.2,332],[64.2,321],[65,333],[65.8,312],[66.5,182],[67.1,200],[67.8,204],[67.8,158],[68.8,243],[69.2,150],[69.9,329],[70.6,329],[71.3,292],[72,293],[73.1,293],[75.2,346],[76.2,352],[77.7,329],[78.4,352],[79.8,329],[81.2,352],[81.9,196],[82.6,183],[83.7,337],[84.7,285],[85.6,193],[86.1,337],[88.3,293],[92.8,354],[94.3,342],[95,304],[95.7,125],[98.8,354],[101,112],[102,110],[105.2,121],[105.9,117],[107,123],[107.7,337],[108.4,121],[109.1,146],[109.8,125],[111.2,8],[112.6,17],[114.1,25],[115.5,8],[116.9,8],[118.3,12],[119.7,12],[121.1,25],[122.5,158],[123.2,183],[124.1,212],[125,329],[125.7,343],[127.3,346],[128.2,348],[129.6,342],[130.7,337],[131.7,342],[131.7,25],[132.8,343],[133.5,8],[134.9,0],[135.6,325],[136.7,329],[137,300],[138.1,292],[138.9,292],[140.2,354],[141.3,342],[142.3,333],[143,0],[144.1,312],[144.8,298],[145.9,296],[146.9,293],[148.3,325],[149.4,329],[150.4,317],[151.5,325],[152.6,337],[153.6,329],[154.7,354],[155.8,329],[156.8,333],[157.9,350],[158.9,342],[160,333],[161.4,333],[162.8,352],[163.9,337],[164.9,333],[166,329],[167.1,325],[168.5,312],[169.9,296],[170.6,0],[172.7,333],[173.8,346],[174.8,352],[175.9,342],[176.9,337],[178,342],[179.1,337],[180.5,337],[181.9,342],[182.6,0],[183.3,329],[184.7,329],[186.1,325],[187.5,325],[189,329],[190.4,342],[191.8,183],[192.8,268],[193.9,221],[195,258],[196,217],[197.1,242],[198.2,162],[198.9,192],[199.9,171],[201,217],[201.7,162],[202.4,233],[203.5,296],[204.5,300],[205.6,304],[206.6,304],[207.7,312],[208.8,333],[209.5,300],[210.5,121],[211.6,117],[212.6,117],[215.5,343]];

// (f) acceleration a (g), half-hourly in active windows
const accelStart1 = 38;
const accel1 = [
0,1.5,2.0,3.0,2.2,4.5,2.5,6.0,3.0,8.0,
4.0,10.3,3.5,16.2,4.5,8.0,5.0,9.5,6.0,22.8,
7.5,11.0,15.8,8.5,12.0,2.6,13.0,23.2,9.0,14.0,
23.2,10.5,16.8,9.0,14.5,7.5,16.8,10.0,13.5,8.0,
16.5,9.0,12.0,8.5,14.9,9.5,14.5,8.0,12.5,7.5,
11.0,9.5,10.5,6.0,9.0,14.0,5.0,8.0,3.0,1.5,
1.0,1.2,4.0,9.0,1.5,1.2,3.0,11.3,5.0,8.0,
6.5,9.0,5.5,8.5,7.0,4.5,9.5,11.5,5.0,4.0,
8.0,16.2,6.0,5.5,6.5,3.5,2.0,1.8,1.5,1.5,
1.2,0.8,0];
const accelStart2 = 145;
const accel2 = [
0,0.5,3.0,10.0,8.5,17.7,9.0,16.8,10.0,14.0,
9.5,28.0,11.0,20.4,10.5,12.0,17.5,12.5,28.0,13.0,
28.0,15.8,12.0,12.4,10.5,9.0,8.0,1.5,1.2,0.5,
0];
const accelThreshold = [[24,1.0],[168,1.0]];
// (g) rotation rate G (deg/s), half-hourly in active windows
const rotStart1 = 40;
const rot1 = [
0,10,60,20,120,40,200,487,90,494,
150,300,60,380,120,462,500,100,300,200,
373,80,250,184,300,60,335,120,250,420,
150,475,494,200,513,300,400,513,250,462,
335,40,120,101,20,70,10,5,0,0,
20,260,60,120,399,30,0,0,0,0,
0,0,20,297,80,120,60,171,100,399,
60,150,120,60,146,200,100,354,40,20,
0,82,10,0,0];
const rotStart2 = 145;
const rot2 = [
0,0,20,200,300,456,250,487,300,481,
200,601,350,595,300,209,350,671,400,830,
450,500,300,361,250,209,100,10,0,0,
0];
const rotTail = [[199,10],[216,10]];
// (f),(g) Hmax overlay [hour, m]
const hmaxSmoothFG = [[0,0.003],[10,0.003],[11,0.008],[12,0.003],[34.5,0.003],[35.5,0.035],[36.9,0.045],[38,0.02],[39,0.027],[40.1,0.137],[41.2,0.176],[42.2,0.286],[43.3,0.35],[44,0.54],[44.7,0.58],[45.4,0.47],[46.1,0.40],[46.8,0.52],[47.5,0.615],[48.2,0.55],[48.9,0.57],[49.6,0.69],[50.3,0.725],[51,0.68],[51.7,0.80],[52.5,0.70],[53.2,0.49],[53.9,0.46],[54.6,0.52],[55.6,0.35],[56.3,0.46],[57.4,0.41],[58.5,0.35],[59.5,0.54],[60.6,0.46],[61.6,0.47],[62.7,0.40],[63.4,0.43],[64.5,0.30],[65.5,0.22],[66.6,0.144],[67.6,0.05],[69,0.042],[70.5,0.05],[71.5,0.24],[72.6,0.18],[73.6,0.21],[74.7,0.11],[75.8,0.08],[76.8,0.24],[77.5,0.21],[78.6,0.32],[79.6,0.18],[80.7,0.22],[81.8,0.13],[82.8,0.066],[84.2,0.02],[85.6,0.003],[145.5,0.005],[145.9,0.02],[146.9,0.30],[147.6,0.44],[148.3,0.38],[149,0.43],[150.1,0.40],[151.2,0.46],[152.2,0.505],[153.3,0.47],[154,0.55],[154.7,0.46],[155.4,0.49],[156.1,0.43],[156.8,0.35],[157.9,0.33],[158.6,0.29],[159.3,0.22],[160.3,0.13],[161.4,0.05],[162.5,0.01],[163.5,0.004],[200,0.004],[202,0.01],[204,0.004],[216,0.004]];

// ---------------- BUILD ----------------
const hourly = arr => arr.map((v, i) => [i, v]);
const halfHourly = (start, arr) => arr.map((v, i) => [start + i * 0.5, v]);
const F = 'Liberation Sans, Arial, sans-serif';
const BLACK = '#000';
const GRAY = '#8a8a8a';
const TICK_FS = 30;

const L = 174, W = 1267;
const grids = [
  {top: 26, height: 212},   // 0 a
  {top: 17, height: 212},   // 1 a (direction)
  {top: 284, height: 213},  // 2 b
  {top: 530, height: 212},  // 3 c
  {top: 791, height: 215},  // 4 d
  {top: 1055, height: 212}, // 5 e
  {top: 1314, height: 213}, // 6 f
  {top: 1565, height: 213}, // 7 g
  {top: 9, height: 1769}    // 8 band
].map(g => Object.assign({left: L, width: W, containLabel: false}, g));

const dayFmt = v => { const d = v / 24; return Math.abs(d - Math.round(d)) < 1e-6 ? (dayStart + Math.round(d)) + '-Feb' : ''; };
const xAxes = grids.map((g, i) => {
  const base = {type: 'value', gridIndex: i, min: 0, max: xMaxHours, interval: 24, show: false, splitLine: {show: false}};
  if (i === 7) {
    Object.assign(base, {
      show: true, position: 'bottom',
      axisLine: {show: true, onZero: false, lineStyle: {color: BLACK, width: 2.5}},
      axisTick: {show: true, length: 30, lineStyle: {color: BLACK, width: 2.5}},
      minorTick: {show: true, splitNumber: 2, length: 16, lineStyle: {color: BLACK, width: 2.5}},
      axisLabel: {formatter: dayFmt, fontSize: TICK_FS, fontFamily: F, color: BLACK, margin: 45},
      minorSplitLine: {show: false}
    });
  }
  return base;
});

function yAx(grid, side, min, max, extra) {
  const ax = {
    type: 'value', gridIndex: grid, position: side, min, max,
    offset: side === 'right' ? 7 : 0,
    axisLine: {show: true, onZero: false, lineStyle: {color: BLACK, width: 2.5}},
    axisTick: {show: true, length: 28, lineStyle: {color: BLACK, width: 2.5}},
    axisLabel: {fontSize: TICK_FS, fontFamily: F, color: BLACK, margin: side === 'right' ? 42 : 38},
    splitLine: {show: false}
  };
  return Object.assign(ax, extra || {});
}
const lbl = (side, more) => Object.assign({fontSize: TICK_FS, fontFamily: F, color: BLACK, margin: side === 'right' ? 42 : 38}, more);
const dirAxis = g => yAx(g, 'right', 0, 360, {interval: 180, minorTick: {show: true, splitNumber: 2, length: 16, lineStyle: {color: BLACK, width: 2.5}}, minorSplitLine: {show: false}});
const curFmt = v => { const r = Math.round(v * 100); if (r % 10 !== 0) return ''; return r === 0 ? '0' : (r / 100).toFixed(1); };
const curAxis = g => yAx(g, 'left', 0, 0.25, {interval: 0.05, axisLabel: lbl('left', {formatter: curFmt})});

const yAxes = [
  yAx(0, 'left', 0, 12, {interval: 4}),                     // 0
  dirAxis(1),                                                // 1
  yAx(2, 'left', 0, 1.5, {interval: 0.5}),                   // 2
  dirAxis(2),                                                // 3
  curAxis(3), dirAxis(3),                                    // 4,5
  curAxis(4), dirAxis(4),                                    // 6,7
  curAxis(5), dirAxis(5),                                    // 8,9
  yAx(6, 'left', 0, 27, {axisTick: {show: true, length: 28, customValues: [0, 10, 20], lineStyle: {color: BLACK, width: 2.5}}, axisLabel: lbl('left', {customValues: [0, 10, 20]})}), // 10
  yAx(6, 'right', 0, 1, {interval: 0.5}),                    // 11
  yAx(7, 'left', 0, 810, {axisTick: {show: true, length: 28, customValues: [0, 300, 600], lineStyle: {color: BLACK, width: 2.5}}, axisLabel: lbl('left', {customValues: [0, 300, 600]})}), // 12
  yAx(7, 'right', 0, 1, {interval: 0.5}),                    // 13
  {type: 'value', gridIndex: 8, min: 0, max: 1, show: false} // 14
];

const line = (x, y, data, color, width, extra) => Object.assign({
  type: 'line', xAxisIndex: x, yAxisIndex: y, data, symbol: 'none', showSymbol: false,
  lineStyle: {color, width}, itemStyle: {color}, connectNulls: false, silent: true
}, extra || {});
const dots = (x, y, data, size) => ({
  type: 'scatter', xAxisIndex: x, yAxisIndex: y, data, symbol: 'circle', symbolSize: size || 5,
  itemStyle: {color: BLACK}, silent: true
});
const area = (x, y, data) => line(x, y, data, '#747474', 1, {areaStyle: {color: '#747474', opacity: 1}});

const series = [
  {type: 'line', xAxisIndex: 8, yAxisIndex: 14, data: [[bandHours[0], 0]], symbol: 'none', lineStyle: {opacity: 0}, z: 1, silent: true,
   markArea: {silent: true, itemStyle: {color: '#c9c9c9'}, data: [[{xAxis: bandHours[0]}, {xAxis: bandHours[1]}]]}},
  // (a)
  line(0, 0, hourly(windSpeedRaw), GRAY, 1.6),
  line(0, 0, windSpeedSmooth, BLACK, 3.5, {smooth: 0.3}),
  dots(1, 1, windDir),
  // (b)
  line(2, 2, halfHourly(hmaxRawStart1, hmaxRaw1), GRAY, 1.6),
  line(2, 2, halfHourly(hmaxRawStart2, hmaxRaw2), GRAY, 1.6),
  line(2, 2, hmaxSmoothB, BLACK, 3),
  dots(2, 3, waveDir, 4.5),
  // (c)
  line(3, 4, hourly(cur2Raw), '#999', 1.6),
  line(3, 4, cur2Smooth, BLACK, 3),
  dots(3, 5, cur2Dir),
  // (d)
  line(4, 6, hourly(cur5Raw), '#999', 1.6),
  line(4, 6, cur5Smooth, BLACK, 3),
  dots(4, 7, cur5Dir),
  // (e)
  line(5, 8, hourly(cur10Raw), '#999', 1.6),
  line(5, 8, cur10Smooth, BLACK, 3),
  dots(5, 9, cur10Dir),
  // (f)
  line(6, 10, accelThreshold, '#999', 3),
  area(6, 10, halfHourly(accelStart1, accel1)),
  area(6, 10, halfHourly(accelStart2, accel2)),
  line(6, 11, hmaxSmoothFG, BLACK, 1.6),
  // (g)
  area(7, 12, halfHourly(rotStart1, rot1)),
  area(7, 12, halfHourly(rotStart2, rot2)),
  line(7, 12, rotTail, '#555', 3),
  line(7, 13, hmaxSmoothFG, BLACK, 1.6)
];

// ---------------- TEXT ----------------
const R90 = Math.PI / 2;
const rich = {
  n: {fontSize: 31, fontFamily: F, fill: BLACK, lineHeight: 36},
  sup: {fontSize: 18, fontFamily: F, fill: BLACK, lineHeight: 18, verticalAlign: 'top'},
  sub: {fontSize: 18, fontFamily: F, fill: BLACK, lineHeight: 18, verticalAlign: 'bottom'},
  b: {fontSize: 31, fontFamily: F, fill: BLACK, fontWeight: 'bold', lineHeight: 36},
  w: {fontSize: 31, fontFamily: F, fill: BLACK, lineHeight: 36}
};
function T(x, y, text, rot, align) {
  return {type: 'text', x, y, rotation: rot || 0, silent: true, z: 100,
    style: {text, rich, font: '31px ' + F, fill: BLACK, align: align || 'center', verticalAlign: 'middle',
            textAlign: align || 'center', textVerticalAlign: 'middle'}};
}
const graphics = [
  T(4, 26, '{n|(a)}', 0, 'left'), T(4, 284, '{n|(b)}', 0, 'left'), T(4, 530, '{n|(c)}', 0, 'left'),
  T(4, 791, '{n|(d)}', 0, 'left'), T(4, 1054, '{n|(e)}', 0, 'left'), T(4, 1332, '{n|(f)}', 0, 'left'),
  T(4, 1569, '{n|(g)}', 0, 'left'),
  T(73, 128, '{n|Wind speed (m s}{sup|-1}{n|)}', R90),
  T(71, 393, '{n|H}{sub|max}{n| (m)}', R90),
  T(54, 900, '{n|Current speed (m s}{sup|-1}{n|)}', R90),
  T(78, 1420, '{n|a (g)}', R90),
  T(66, 1662, '{n|G (deg. s}{sup|-1}{n|)}', R90),
  T(1589, 121, '{n|Wind direction}\n{n|(deg.)}', R90),
  T(1589, 391, '{n|Wave direction}\n{n|(deg.)}', R90),
  T(1589, 900, '{n|Current direction}\n{n|(deg.)}', R90),
  T(1565, 1421, '{n|H}{sub|max}{n| (m)}', R90),
  T(1565, 1669, '{n|H}{sub|max}{n| (m)}', R90),
  T(766, 597, '{b|2m}'), T(768, 633, '{w|water depth}'),
  T(766, 855, '{b|5m}'), T(768, 890, '{w|water depth}'),
  T(766, 1120, '{b|10m}'), T(768, 1157, '{w|water depth}')
];

const chart = echarts.init(document.getElementById('c'), null, {renderer: 'canvas', width: 1622, height: 1856});
chart.setOption({
  animation: false,
  backgroundColor: '#fff',
  grid: grids, xAxis: xAxes, yAxis: yAxes, series,
  graphic: {elements: graphics}
});
</script></body></html>
